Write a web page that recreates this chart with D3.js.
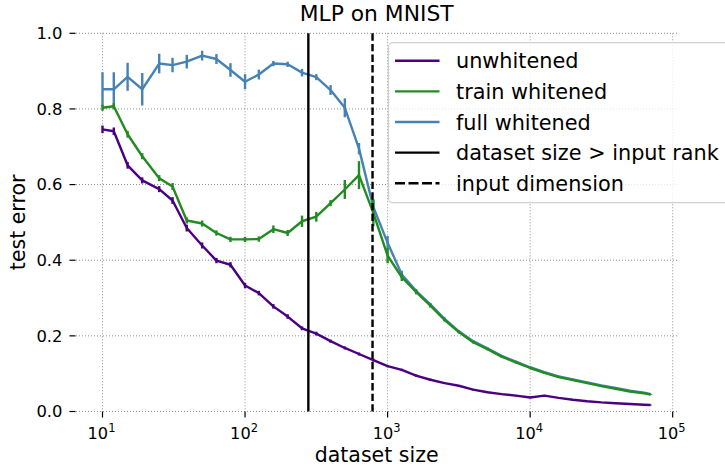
<!DOCTYPE html>
<html><head><meta charset="utf-8">
<script src="https://cdn.jsdelivr.net/npm/d3@7"></script>
<style>
body{margin:0;background:#fff}
svg{display:block}
text{font-family:"DejaVu Sans",sans-serif;fill:#000}
</style>
</head><body>
<svg id="c" width="725" height="470"></svg>
<script>
const datasetSize = [10,12,15,19,25,31,39,50,63,79,100,125,158,199,251,316,398,501,630,794,1000,1258,1584,1995,2511,3162,3981,5011,6309,7943,10000,12589,15848,19952,25118,31622,39810,50118,63095,70000];

const unwhitened = [0.746,0.741,0.651,0.611,0.588,0.558,0.485,0.439,0.399,0.388,0.333,0.313,0.278,0.251,0.220,0.206,0.186,0.168,0.152,0.136,0.120,0.110,0.095,0.084,0.075,0.068,0.058,0.051,0.046,0.042,0.037,0.042,0.036,0.031,0.027,0.024,0.022,0.020,0.018,0.017];
const unwhitenedErr = [0.010,0.010,0.009,0.008,0.008,0.009,0.009,0.008,0.007,0.007,0.007,0.006,0.006,0.006,0.005,0.005,0.004,0.004,0.004,0.004,0.003,0.003,0.003,0.003,0.002,0.002,0.002,0.002,0.002,0.002,0.002,0.002,0.002,0.002,0.001,0.001,0.001,0.001,0.001,0.001];

const trainWhitened = [0.803,0.807,0.733,0.675,0.617,0.595,0.505,0.497,0.472,0.455,0.455,0.456,0.482,0.472,0.503,0.515,0.551,0.587,0.625,0.525,0.412,0.355,0.316,0.280,0.242,0.210,0.183,0.165,0.145,0.130,0.115,0.102,0.091,0.083,0.075,0.067,0.060,0.053,0.048,0.045];
const trainWhitenedErr = [0.008,0.008,0.009,0.008,0.008,0.009,0.008,0.008,0.007,0.007,0.007,0.007,0.010,0.008,0.015,0.013,0.008,0.025,0.037,0.035,0.020,0.010,0.006,0.005,0.004,0.004,0.003,0.003,0.003,0.003,0.002,0.002,0.002,0.002,0.002,0.002,0.001,0.001,0.001,0.001];

const fullWhitened = [0.852,0.852,0.885,0.852,0.920,0.916,0.925,0.941,0.932,0.903,0.872,0.891,0.920,0.918,0.896,0.884,0.850,0.803,0.695,0.541,0.446,0.362,0.319,0.283,0.245,0.212,0.186,0.167,0.147,0.132,0.117,0.104,0.093,0.085,0.077,0.069,0.062,0.055,0.050,0.046];
const fullWhitenedErr = [0.045,0.045,0.037,0.043,0.026,0.019,0.018,0.013,0.013,0.018,0.020,0.013,0.007,0.007,0.010,0.008,0.013,0.025,0.015,0.020,0.018,0.010,0.005,0.004,0.004,0.003,0.003,0.003,0.002,0.002,0.002,0.002,0.002,0.002,0.002,0.001,0.001,0.001,0.001,0.001];

const inputRank = 278;
const inputDimension = 784;

const xTickValues = [10,100,1000,10000,100000];
const xTickExponents = ["1","2","3","4","5"];
const yTickValues = [0,0.2,0.4,0.6,0.8,1.0];

const legendLabels = ["unwhitened","train whitened","full whitened","dataset size > input rank","input dimension"];
const seriesColors = {unwhitened:"#4b0082", train:"#228b22", full:"#4682b4"};

const svg = d3.select("#c");
const plotL = 76, plotR = 677.3, plotT = 33.3, plotB = 411.5;
const LW = 2.4;

const x = d3.scaleLog().domain([10, 100000]).range([102.5, 672.7]);
const y = d3.scaleLinear().domain([0, 1]).range([plotB, plotT]);

// grid
const grid = svg.append("g");
grid.selectAll("line.h").data(yTickValues).join("line")
  .attr("x1", plotL).attr("x2", plotR)
  .attr("y1", d => y(d)).attr("y2", d => y(d))
  .attr("stroke", "#8e8e8e").attr("stroke-width", 1).attr("stroke-dasharray", "1,2");
grid.selectAll("line.v").data(xTickValues).join("line")
  .attr("x1", d => x(d)).attr("x2", d => x(d))
  .attr("y1", plotT).attr("y2", plotB)
  .attr("stroke", "#8e8e8e").attr("stroke-width", 1).attr("stroke-dasharray", "1,2");

// y ticks
const yAx = svg.append("g");
yAx.selectAll("line").data(yTickValues).join("line")
  .attr("x1", 69.5).attr("x2", 75.5)
  .attr("y1", d => y(d)).attr("y2", d => y(d))
  .attr("stroke", "#000").attr("stroke-width", 1.2);
yAx.selectAll("text").data(yTickValues).join("text")
  .attr("x", 62.5).attr("y", d => y(d)).attr("dy", "0.36em")
  .attr("text-anchor", "end").attr("font-size", 16.4)
  .text(d => d.toFixed(1));

// x ticks
const xAx = svg.append("g");
xAx.selectAll("line").data(xTickValues).join("line")
  .attr("x1", d => x(d)).attr("x2", d => x(d))
  .attr("y1", plotB).attr("y2", plotB + 6)
  .attr("stroke", "#000").attr("stroke-width", 1.2);
const xl = xAx.selectAll("text").data(xTickValues).join("text")
  .attr("x", d => x(d) - 1).attr("y", 438.5)
  .attr("text-anchor", "middle").attr("font-size", 16.2);
xl.append("tspan").text("10");
xl.append("tspan").attr("dy", -7).attr("font-size", 11.5).text((d, i) => xTickExponents[i]);

// series
const line = d3.line().x((d, i) => x(datasetSize[i])).y(d => y(d));
function drawSeries(vals, errs, color) {
  const g = svg.append("g");
  g.append("path").datum(vals).attr("d", line)
    .attr("fill", "none").attr("stroke", color).attr("stroke-width", LW)
    .attr("stroke-linejoin", "round");
  g.selectAll("line").data(vals).join("line")
    .attr("x1", (d, i) => x(datasetSize[i])).attr("x2", (d, i) => x(datasetSize[i]))
    .attr("y1", (d, i) => y(d - errs[i])).attr("y2", (d, i) => y(d + errs[i]))
    .attr("stroke", color).attr("stroke-width", LW);
}
drawSeries(unwhitened, unwhitenedErr, seriesColors.unwhitened);
drawSeries(fullWhitened, fullWhitenedErr, seriesColors.full);
drawSeries(trainWhitened, trainWhitenedErr, seriesColors.train);

// vertical lines
svg.append("line").attr("x1", x(inputRank)).attr("x2", x(inputRank))
  .attr("y1", plotT).attr("y2", plotB).attr("stroke", "#000").attr("stroke-width", LW);
svg.append("line").attr("x1", x(inputDimension)).attr("x2", x(inputDimension))
  .attr("y1", plotT).attr("y2", plotB).attr("stroke", "#000").attr("stroke-width", LW)
  .attr("stroke-dasharray", "7.4,3.2");

// title & labels
svg.append("text").attr("x", (plotL + plotR) / 2).attr("y", 21).attr("text-anchor", "middle")
  .attr("font-size", 21.8).text("MLP on MNIST");
svg.append("text").attr("x", (plotL + plotR) / 2).attr("y", 462).attr("text-anchor", "middle")
  .attr("font-size", 20.5).text("dataset size");
svg.append("text").attr("transform", `translate(25,${(plotT + plotB) / 2}) rotate(-90)`)
  .attr("text-anchor", "middle").attr("font-size", 20.5).text("test error");

// legend
const lg = svg.append("g");
lg.append("rect").attr("x", 388.5).attr("y", 42.7).attr("width", 350).attr("height", 160)
  .attr("rx", 4).attr("fill", "rgba(255,255,255,0.8)").attr("stroke", "#d0d0d0").attr("stroke-width", 1.2);
const legendStyles = [
  {color: seriesColors.unwhitened, dash: null},
  {color: seriesColors.train, dash: null},
  {color: seriesColors.full, dash: null},
  {color: "#000", dash: null},
  {color: "#000", dash: "10,3.5"}
];
const entry = lg.selectAll("g.e").data(legendLabels).join("g")
  .attr("transform", (d, i) => `translate(0,${60.7 + i * 30.65})`);
entry.append("line").attr("x1", 395).attr("x2", 439.5).attr("y1", 0).attr("y2", 0)
  .attr("stroke", (d, i) => legendStyles[i].color).attr("stroke-width", LW)
  .attr("stroke-dasharray", (d, i) => legendStyles[i].dash);
entry.append("text").attr("x", 456).attr("y", 7.5).attr("font-size", 20.8).text(d => d);
</script>
</body></html>
